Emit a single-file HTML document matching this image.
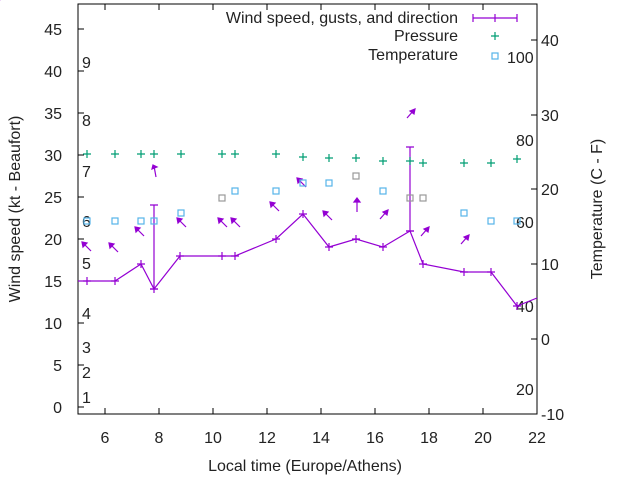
<!DOCTYPE html>
<html><head><style>body{margin:0;background:#fff}svg{display:block}text{font-family:"Liberation Sans",sans-serif;font-size:16px;fill:#222}</style></head><body>
<svg width="640" height="480" xmlns="http://www.w3.org/2000/svg">
<rect x="78" y="4" width="459" height="410" fill="none" stroke="#000" stroke-width="1"/>
<g stroke="#000">
<path d="M78,407h6M78,365h6M78,323h6M78,281h6M78,239h6M78,197h6M78,155h6M78,113h6M78,71h6M78,29h6"/>
<path d="M537,414h-6M537,339h-6M537,264h-6M537,189h-6M537,115h-6M537,40h-6"/>
<path d="M105,414v-6M159,414v-6M213,414v-6M267,414v-6M321,414v-6M375,414v-6M429,414v-6M483,414v-6M105,4v6M159,4v6M213,4v6M267,4v6M321,4v6M375,4v6M429,4v6M483,4v6"/>
</g>
<g text-anchor="end">
<text x="62" y="413">0</text><text x="62" y="371">5</text><text x="62" y="329">10</text><text x="62" y="287">15</text><text x="62" y="245">20</text><text x="62" y="203">25</text><text x="62" y="161">30</text><text x="62" y="119">35</text><text x="62" y="77">40</text><text x="62" y="35">45</text>
</g>
<g>
<text x="541" y="420">-10</text><text x="541" y="345">0</text><text x="541" y="270">10</text><text x="541" y="195">20</text><text x="541" y="121">30</text><text x="541" y="46">40</text>
</g>
<g text-anchor="middle">
<text x="105" y="443">6</text><text x="159" y="443">8</text><text x="213" y="443">10</text><text x="267" y="443">12</text><text x="321" y="443">14</text><text x="375" y="443">16</text><text x="429" y="443">18</text><text x="483" y="443">20</text><text x="537" y="443">22</text>
<text x="305" y="471" font-size="15">Local time (Europe/Athens)</text>
</g>
<text transform="translate(20,209) rotate(-90)" text-anchor="middle" font-size="15">Wind speed (kt - Beaufort)</text>
<text transform="translate(602,209) rotate(-90)" text-anchor="middle" font-size="15">Temperature (C - F)</text>
<g>
<text x="82" y="403">1</text><text x="82" y="378">2</text><text x="82" y="353">3</text><text x="82" y="319">4</text><text x="82" y="269">5</text><text x="82" y="227">6</text><text x="82" y="177">7</text><text x="82" y="126">8</text><text x="82" y="68">9</text>
<text x="516" y="395">20</text><text x="516" y="312">40</text><text x="516" y="228">60</text><text x="516" y="146">80</text><text x="507" y="63">100</text>
</g>
<text x="458" y="23" text-anchor="end" font-size="15">Wind speed, gusts, and direction</text>
<text x="458" y="41" text-anchor="end" font-size="15">Pressure</text>
<text x="458" y="60" text-anchor="end" font-size="15">Temperature</text>
<g stroke="#9400d3" fill="none" stroke-width="1.2">
<path d="M473,18h44M473,14v8M517,14v8M495,14v8"/>
<polyline points="78,281 87,281 115,281 141,264 154,289 180,256 222,256 235,256 276,239 303,214 329,247 356,239 383,247 410,231 423,264 464,272 491,272 517,306 537,298"/>
<path d="M154,205v84M150,205h8M150,289h8M410,147v84M406,147h8M406,231h8"/>
<path d="M83,281h8M87,277v8M111,281h8M115,277v8M137,264h8M141,260v8M150,289h8M154,285v8M176,256h8M180,252v8M218,256h8M222,252v8M231,256h8M235,252v8M272,239h8M276,235v8M299,214h8M303,210v8M325,247h8M329,243v8M352,239h8M356,235v8M379,247h8M383,243v8M406,231h8M419,264h8M423,260v8M460,272h8M464,268v8M487,272h8M491,268v8M513,306h8M517,302v8"/>
</g>
<g stroke="#9400d3" stroke-width="1.2" fill="#9400d3">
<g id="a"><path d="M0,0L-8,-8" fill="none"/><path d="M-9,-9l5,1l-4,4z"/></g>
<use href="#a" x="91" y="251"/><use href="#a" x="118" y="252"/><use href="#a" x="144" y="236"/>
<g transform="translate(156,177)"><path d="M0,0L-2,-11" fill="none"/><path d="M-3,-12l4,2l-5,2z"/></g>
<use href="#a" x="186" y="227"/><use href="#a" x="227" y="227"/><use href="#a" x="240" y="227"/><use href="#a" x="279" y="211"/><use href="#a" x="306" y="187"/><use href="#a" x="332" y="220"/>
<g transform="translate(357,212)"><path d="M0,0L0,-11" fill="none"/><path d="M-3,-10l3,-4l3,4z"/></g>
<g id="b"><path d="M0,0L7,-8" fill="none"/><path d="M8,-9l-1,5l-4,-3z"/></g>
<use href="#b" x="380" y="219"/><use href="#b" x="407" y="118"/><use href="#b" x="421" y="236"/><use href="#b" x="461" y="244"/>
</g>
<g stroke="#009e73" stroke-width="1.2">
<path d="M491,36h8M495,32v8"/>
<path d="M83,154h8M87,150v8M111,154h8M115,150v8M137,154h8M141,150v8M150,154h8M154,150v8M177,154h8M181,150v8M218,154h8M222,150v8M231,154h8M235,150v8M272,154h8M276,150v8M299,157h8M303,153v8M325,158h8M329,154v8M352,158h8M356,154v8M379,161h8M383,157v8M406,161h8M410,157v8M419,163h8M423,159v8M460,163h8M464,159v8M487,163h8M491,159v8M513,159h8M517,155v8"/>
</g>
<g fill="none" stroke-width="1.2" stroke="#56b4e9">
<rect x="492" y="53" width="6" height="6"/>
<rect x="84" y="218" width="6" height="6"/><rect x="112" y="218" width="6" height="6"/><rect x="138" y="218" width="6" height="6"/><rect x="151" y="218" width="6" height="6"/><rect x="178" y="210" width="6" height="6"/><rect x="232" y="188" width="6" height="6"/><rect x="273" y="188" width="6" height="6"/><rect x="300" y="180" width="6" height="6"/><rect x="326" y="180" width="6" height="6"/><rect x="380" y="188" width="6" height="6"/><rect x="461" y="210" width="6" height="6"/><rect x="488" y="218" width="6" height="6"/><rect x="514" y="218" width="6" height="6"/>
</g>
<g fill="none" stroke-width="1.2" stroke="#999">
<rect x="219" y="195" width="6" height="6"/><rect x="353" y="173" width="6" height="6"/><rect x="407" y="195" width="6" height="6"/><rect x="420" y="195" width="6" height="6"/>
</g>
</svg>
</body></html>
